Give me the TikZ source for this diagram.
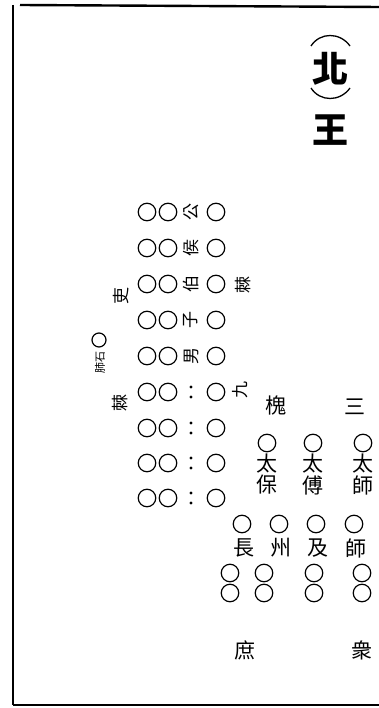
\documentclass[tikz,border=0pt]{standalone}
\usepackage{fontspec}
\newfontfamily\cjk{Noto Sans CJK TC}
\begin{document}
\begin{tikzpicture}[x=1pt,y=-1pt,
  ring/.style={circle,draw,line width=1.2pt,minimum size=17.5pt,inner sep=0pt},
  zi/.style={font=\cjk\fontsize{17}{17}\selectfont,inner sep=0pt},
  tiny/.style={font=\cjk\fontsize{11}{11}\selectfont,inner sep=0pt},
  mid/.style={font=\cjk\fontsize{21}{21}\selectfont,inner sep=0pt},
  big/.style={font=\cjk\bfseries\fontsize{36}{36}\selectfont,inner sep=0pt},
  frame/.style={line width=2.4pt}]
\useasboundingbox (0,0) rectangle (379,708);
% frame
\coordinate (tl) at (20,5);
\coordinate (tr) at (379,7);
\coordinate (lt) at (13,5);
\coordinate (lb) at (13,705);
\coordinate (br) at (379,705);
\draw[frame] (tl) -- (tr);
\draw[frame] (lt) -- (lb);
\draw[frame] (lb) -- (br);
% north king
\node[big] (bei) at (330,69) {北};
\node[big] (wang) at (330,130) {王};
\draw[line width=1.3pt] (311,46) .. controls (320,32) and (340,32) .. (350,46);
\draw[line width=1.3pt] (311,88) .. controls (320,102) and (340,102) .. (350,88);
% left group rows
\foreach \i/\y/\c in {1/212/公,2/248/侯,3/284/伯,4/320/子,5/356/男}{
  \node[ring] (a\i) at (147,\y) {};
  \node[ring] (b\i) at (168,\y) {};
  \node[zi,rotate=90] (c\i) at (191,\y) {\c};
  \node[ring] (d\i) at (216,\y) {};
}
\foreach \i/\y in {6/392,7/428,8/463,9/498}{
  \node[ring] (a\i) at (147,\y) {};
  \node[ring] (b\i) at (168,\y) {};
  \node[inner sep=0pt,minimum size=4pt] (c\i) at (191,\y) {};
  \fill (191,\y-5) circle (1.7pt) (191,\y+5) circle (1.7pt);
  \node[ring] (d\i) at (216,\y) {};
}
\node[zi,rotate=90] (ji) at (243,285) {棘};
\node[zi,rotate=90] (jiu) at (240,390) {九};
\node[zi,rotate=90] (li) at (121,296) {吏};
\node[zi,rotate=90] (gu) at (120,403) {棘};
\node[ring,minimum size=14pt] (fs) at (99,340) {};
\node[tiny,rotate=90] (fei) at (100,362) {肺石};
% three locust trees
\node[mid] (san) at (355,407) {三};
\node[mid] (huai) at (276,406) {槐};
\foreach \n/\x/\c in {bao/267/保,fu/313/傅,shi/363/師}{
  \node[ring] (o\n) at (\x,443) {};
  \node[mid] (t\n) at (\x,464) {太};
  \node[mid] (\n) at (\x,485) {\c};
}
% zhou zhang
\foreach \n/\x/\c in {zhang/242/長,zhou/279/州,jiy/316/及,shi2/354/師}{
  \node[ring] (p\n) at (\x,524) {};
  \node[mid] (\n) at (\x+2,548) {\c};
}
\foreach \n/\x in {1/230,2/264,3/314,4/362}{
  \node[ring] (q\n) at (\x,573) {};
  \node[ring] (r\n) at (\x,593) {};
}
\node[mid] (shu) at (245,650) {庶};
\node[mid] (zhong) at (362,650) {衆};
\end{tikzpicture}
\end{document}
